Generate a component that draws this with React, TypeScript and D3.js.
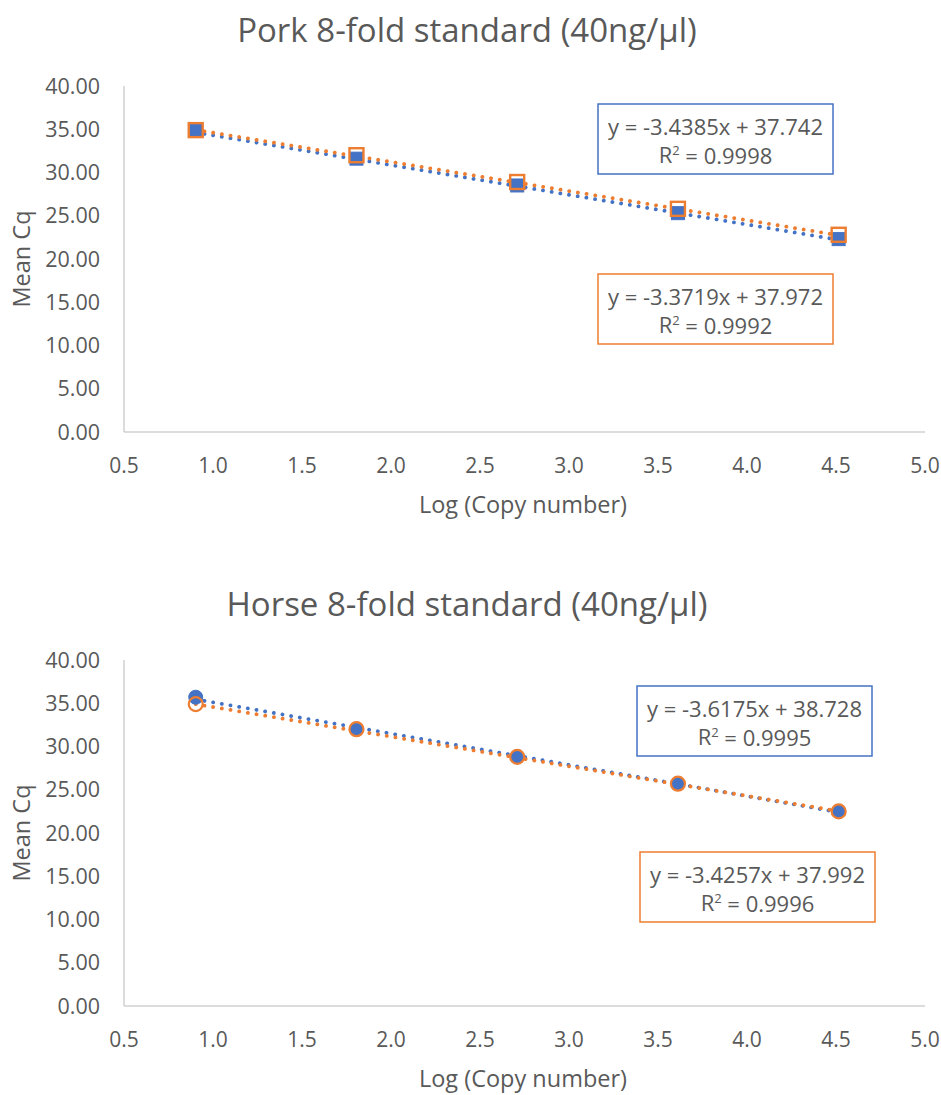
import { useEffect, useRef } from 'react';
import * as d3 from 'd3';

// log10 of the 8-fold dilution series
const logCopy = [0.903, 1.806, 2.709, 3.612, 4.515];

const porkBlue = [34.8, 31.6, 28.5, 25.3, 22.3];
const porkOrange = [34.9, 32.0, 28.9, 25.8, 22.8];
const horseBlue = [35.7, 32.0, 28.8, 25.7, 22.5];
const horseOrange = [34.9, 32.0, 28.8, 25.7, 22.5];

// trendline labels (blue, orange)
const porkSlopes = [-3.4385, -3.3719];
const porkIntercepts = [37.742, 37.972];
const porkR2 = ['0.9998', '0.9992'];
const horseSlopes = [-3.6175, -3.4257];
const horseIntercepts = [38.728, 37.992];
const horseR2 = ['0.9995', '0.9996'];

const xTicks = [0.5, 1.0, 1.5, 2.0, 2.5, 3.0, 3.5, 4.0, 4.5, 5.0];
const yTicks = [0, 5, 10, 15, 20, 25, 30, 35, 40];

const BLUE = '#4472C4';
const ORANGE = '#ED7D31';
const TEXT = '#595959';
const AXIS = '#d0d0d0';
const FONT = '"Open Sans", sans-serif';

function drawChart(svg, opts) {
  const { top, title, blue, orange, slopes, intercepts, r2, shape, boxes } = opts;

  const x = d3.scaleLinear().domain([0.5, 5.0]).range([124, 925]);
  const y = d3.scaleLinear().domain([0, 40]).range([top + 346, top]);

  const g = svg.append('g');

  // Title
  g.append('text')
    .attr('x', 467)
    .attr('y', top - 56)
    .attr('dy', '0.35em')
    .attr('text-anchor', 'middle')
    .attr('font-size', 33)
    .attr('fill', TEXT)
    .text(title);

  // Axes lines
  g.append('line')
    .attr('x1', x(0.5)).attr('x2', x(0.5))
    .attr('y1', y(40)).attr('y2', y(0))
    .attr('stroke', AXIS).attr('stroke-width', 1.5);
  g.append('line')
    .attr('x1', x(0.5)).attr('x2', x(5.0))
    .attr('y1', y(0)).attr('y2', y(0))
    .attr('stroke', AXIS).attr('stroke-width', 1.5);

  // Y tick labels
  g.selectAll('.ytick')
    .data(yTicks)
    .enter()
    .append('text')
    .attr('x', 100)
    .attr('y', d => y(d))
    .attr('dy', '0.35em')
    .attr('text-anchor', 'end')
    .attr('font-size', 21.5)
    .attr('fill', TEXT)
    .text(d => d.toFixed(2));

  // X tick labels
  g.selectAll('.xtick')
    .data(xTicks)
    .enter()
    .append('text')
    .attr('x', d => x(d))
    .attr('y', y(0) + 34)
    .attr('dy', '0.35em')
    .attr('text-anchor', 'middle')
    .attr('font-size', 21)
    .attr('fill', TEXT)
    .text(d => d.toFixed(1));

  // Axis titles
  g.append('text')
    .attr('x', 523)
    .attr('y', y(0) + 73)
    .attr('dy', '0.35em')
    .attr('text-anchor', 'middle')
    .attr('font-size', 23.5)
    .attr('fill', TEXT)
    .text('Log (Copy number)');

  g.append('text')
    .attr('transform', `translate(22,${(y(0) + y(40)) / 2}) rotate(-90)`)
    .attr('dy', '0.35em')
    .attr('text-anchor', 'middle')
    .attr('font-size', 23.5)
    .attr('fill', TEXT)
    .text('Mean Cq');

  // Trendlines (dotted), from first to last point
  const series = [
    { vals: blue, color: BLUE, filled: true },
    { vals: orange, color: ORANGE, filled: false },
  ];
  const x0 = d3.min(logCopy);
  const x1 = d3.max(logCopy);
  const line = d3.line().x(d => x(d[0])).y(d => y(d[1]));

  series.forEach((s, i) => {
    g.append('path')
      .datum([
        [x0, slopes[i] * x0 + intercepts[i]],
        [x1, slopes[i] * x1 + intercepts[i]],
      ])
      .attr('d', line)
      .attr('fill', 'none')
      .attr('stroke', s.color)
      .attr('stroke-width', 3.8)
      .attr('stroke-linecap', 'round')
      .attr('stroke-dasharray', '0.1 8.7');
  });

  // Markers: blue first, orange hollow on top
  series.forEach(s => {
    const pts = logCopy.map((lx, j) => [lx, s.vals[j]]);
    if (shape === 'square') {
      const size = s.filled ? 13 : 14;
      g.selectAll(null)
        .data(pts)
        .enter()
        .append('rect')
        .attr('x', d => x(d[0]) - size / 2)
        .attr('y', d => y(d[1]) - size / 2)
        .attr('width', size)
        .attr('height', size)
        .attr('fill', s.filled ? s.color : 'none')
        .attr('stroke', s.color)
        .attr('stroke-width', s.filled ? 1 : 2.4);
    } else {
      const r = s.filled ? 7 : 7;
      g.selectAll(null)
        .data(pts)
        .enter()
        .append('circle')
        .attr('cx', d => x(d[0]))
        .attr('cy', d => y(d[1]))
        .attr('r', r)
        .attr('fill', s.filled ? s.color : 'none')
        .attr('stroke', s.color)
        .attr('stroke-width', s.filled ? 1 : 2.2);
    }
  });

  // Equation boxes
  boxes.forEach((b, i) => {
    const color = i === 0 ? BLUE : ORANGE;
    const bg = g.append('g');
    bg.append('rect')
      .attr('x', b[0])
      .attr('y', b[1])
      .attr('width', 235)
      .attr('height', 70)
      .attr('fill', '#fff')
      .attr('stroke', color)
      .attr('stroke-width', 1.5);
    const sign = intercepts[i] >= 0 ? '+' : '-';
    bg.append('text')
      .attr('x', b[0] + 117.5)
      .attr('y', b[1] + 23)
      .attr('dy', '0.35em')
      .attr('text-anchor', 'middle')
      .attr('font-size', 22)
      .attr('fill', TEXT)
      .text(`y = ${slopes[i].toFixed(4)}x ${sign} ${Math.abs(intercepts[i]).toFixed(3)}`);
    const t = bg.append('text')
      .attr('x', b[0] + 117.5)
      .attr('y', b[1] + 51)
      .attr('dy', '0.35em')
      .attr('text-anchor', 'middle')
      .attr('font-size', 22)
      .attr('fill', TEXT);
    t.append('tspan').text('R');
    t.append('tspan').attr('font-size', 13).attr('dy', '-0.6em').text('2');
    t.append('tspan').attr('dy', '0.4em').text(` = ${r2[i]}`);
  });
}

export default function App() {
  const ref = useRef(null);

  useEffect(() => {
    document.body.style.margin = '0';
    const svg = d3.select(ref.current);
    svg.selectAll('*').remove();

    drawChart(svg, {
      top: 86,
      title: 'Pork 8-fold standard (40ng/µl)',
      blue: porkBlue,
      orange: porkOrange,
      slopes: porkSlopes,
      intercepts: porkIntercepts,
      r2: porkR2,
      shape: 'square',
      boxes: [[598, 104], [598, 274]],
    });

    drawChart(svg, {
      top: 660,
      title: 'Horse 8-fold standard (40ng/µl)',
      blue: horseBlue,
      orange: horseOrange,
      slopes: horseSlopes,
      intercepts: horseIntercepts,
      r2: horseR2,
      shape: 'circle',
      boxes: [[637, 686], [640, 852]],
    });
  }, []);

  return (
    <svg
      ref={ref}
      width={941}
      height={1095}
      style={{ display: 'block', background: '#fff', fontFamily: FONT }}
    />
  );
}
